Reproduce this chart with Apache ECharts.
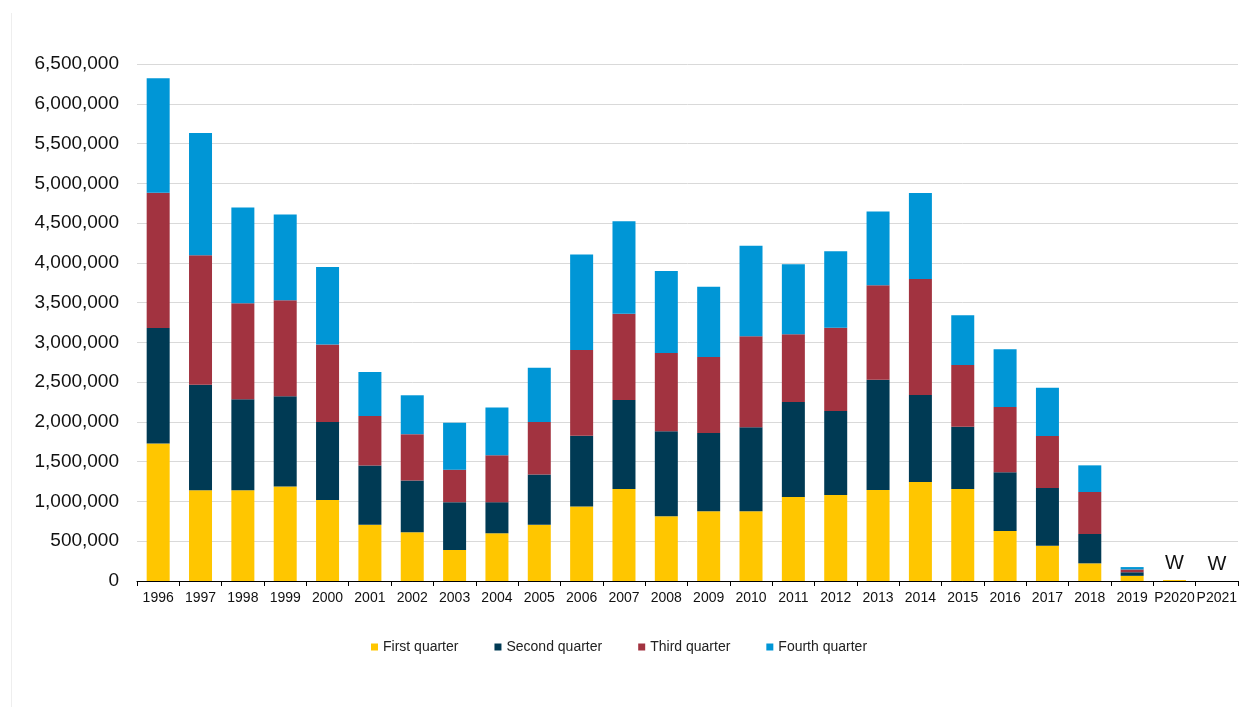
<!DOCTYPE html>
<html>
<head>
<meta charset="utf-8">
<script src="https://cdn.jsdelivr.net/npm/echarts@6/dist/echarts.min.js"></script>
<style>
html,body{margin:0;padding:0;background:#fff;}
#chart{width:1257px;height:707px;}
</style>
</head>
<body>
<div id="chart"></div>
<script>
var categories = ['1996','1997','1998','1999','2000','2001','2002','2003','2004','2005','2006','2007','2008','2009','2010','2011','2012','2013','2014','2015','2016','2017','2018','2019','P2020','P2021'];
var firstQuarter  = [1730000,1140000,1140000,1187000,1017000,706000,613000,391000,600000,706000,936000,1157000,813000,876000,876000,1056000,1081000,1144000,1245000,1157000,629000,444000,222000,65000,12000,0];
var secondQuarter = [1450000,1327000,1144000,1136000,982000,745000,650000,600000,391000,634000,889000,1120000,1069000,985000,1056000,1195000,1056000,1387000,1094000,783000,737000,725000,369000,45000,0,0];
var thirdQuarter  = [1700000,1630000,1208000,1208000,974000,625000,583000,409000,591000,659000,1080000,1083000,985000,955000,1144000,850000,1048000,1187000,1458000,776000,822000,654000,528000,35000,0,0];
var fourthQuarter = [1440000,1535000,1204000,1076000,975000,553000,489000,591000,600000,681000,1200000,1163000,1031000,885000,1140000,881000,960000,926000,1081000,624000,725000,608000,335000,30000,0,0];
var notes = ['','','','','','','','','','','','','','','','','','','','','','','','','W','W'];
var seriesNames = ['First quarter','Second quarter','Third quarter','Fourth quarter'];
var colors = ['#FFC600','#003A54','#A23340','#0096D6'];

var chart = echarts.init(document.getElementById('chart'));
var font = 'Liberation Sans, Arial, sans-serif';
function mk(i, data){
  return {
    name: seriesNames[i], type: 'bar', stack: 'total', barWidth: 23,
    data: data, itemStyle: {color: colors[i]}, emphasis: {disabled: true}
  };
}
var series = [mk(0, firstQuarter), mk(1, secondQuarter), mk(2, thirdQuarter), mk(3, fourthQuarter)];
series[3].label = {
  show: true, position: 'top', distance: 7,
  fontFamily: font, fontSize: 20, color: '#111',
  formatter: function(p){ return notes[p.dataIndex]; }
};
chart.setOption({
  animation: false,
  textStyle: {fontFamily: font},
  color: colors,
  grid: {left: 137, right: 19, top: 64, bottom: 126, containLabel: false},
  legend: {
    data: seriesNames, left: 366, top: 635, icon: 'rect', itemWidth: 7, itemHeight: 7, itemGap: 36,
    textStyle: {fontFamily: font, fontSize: 14, color: '#222'}
  },
  xAxis: {
    type: 'category', data: categories,
    axisLine: {lineStyle: {color: '#000', width: 1}},
    axisTick: {show: true, interval: 0, length: 5, lineStyle: {color: '#000'}},
    axisLabel: {interval: 0, fontFamily: font, fontSize: 14, color: '#111', margin: 10}
  },
  yAxis: {
    type: 'value', min: 0, max: 6500000, interval: 500000,
    axisLine: {show: false}, axisTick: {show: false},
    splitLine: {lineStyle: {color: '#d9d9d9', width: 1}},
    axisLabel: {fontFamily: font, fontSize: 19, color: '#111', margin: 18,
      formatter: function(v){ return v.toLocaleString('en-US'); }}
  },
  graphic: [{
    type: 'line', shape: {x1: 11.5, y1: 13, x2: 11.5, y2: 707},
    style: {stroke: '#eeeeee', lineWidth: 1}, silent: true
  }],
  series: series
});
</script>
</body>
</html>
